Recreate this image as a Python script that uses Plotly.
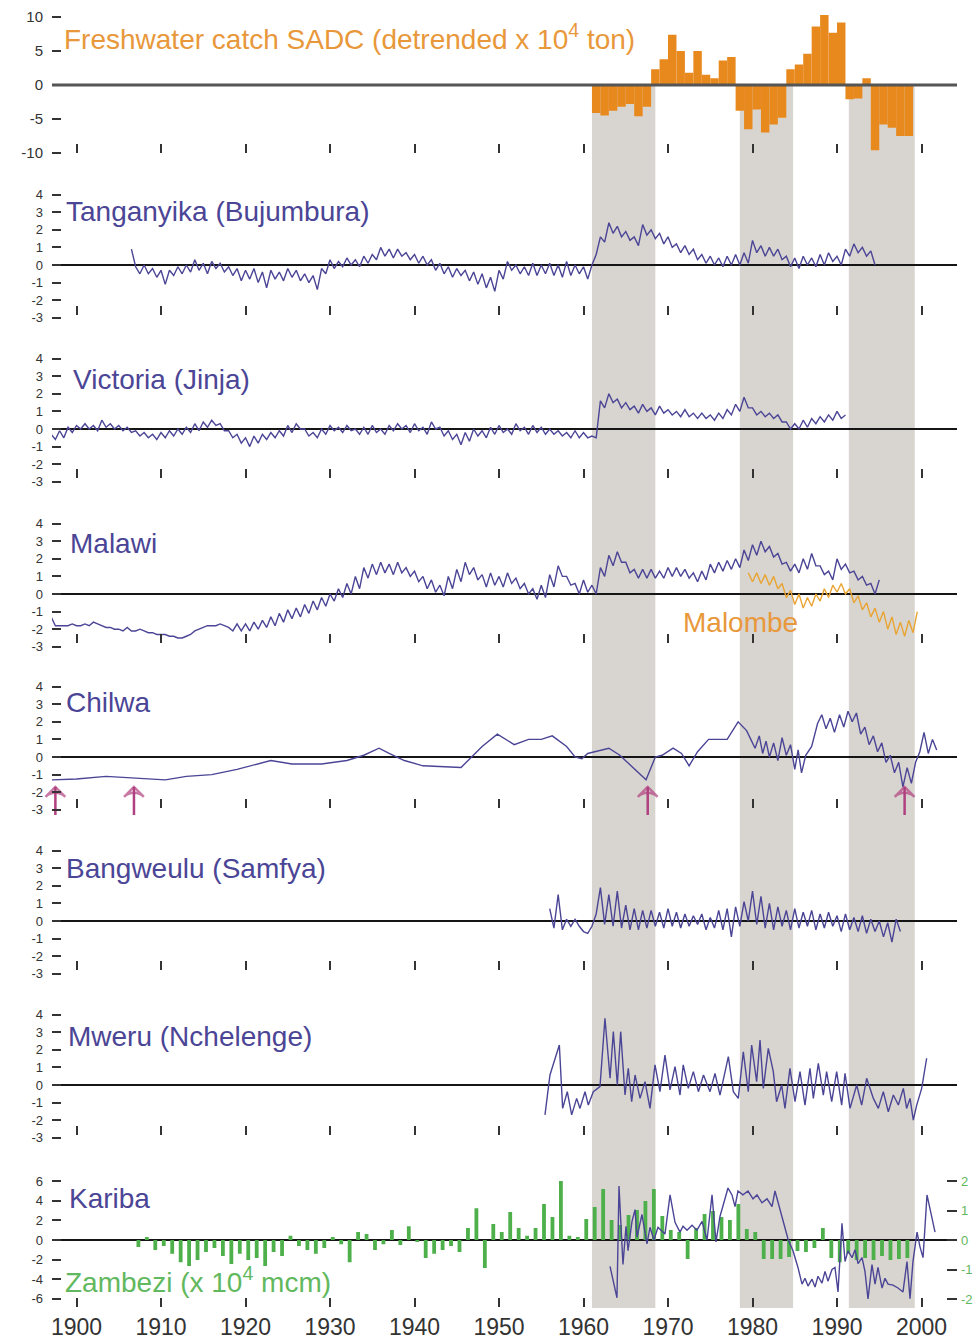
import plotly.graph_objects as go

# ---------------- data ----------------
decades = [1900, 1910, 1920, 1930, 1940, 1950, 1960, 1970, 1980, 1990, 2000]
decade_labels = ["1900", "1910", "1920", "1930", "1940", "1950", "1960", "1970", "1980", "1990", "2000"]

band_start = [1961.0, 1978.5, 1991.4]
band_end = [1968.5, 1984.8, 1999.2]

catch_years = list(range(1961, 1999))
catch_vals = [-4.1, -4.5, -3.8, -3.2, -2.8, -4.6, -3.2,
              2.3, 3.8, 7.4, 5.0, 1.8, 5.0, 1.5, 1.0, 3.6, 4.1,
              -3.8, -6.5, -3.6, -7.0, -5.8, -4.8,
              2.3, 3.0, 4.6, 8.6, 10.3, 7.7, 9.2,
              -2.1, -2.0, 1.0, -9.6, -5.8, -6.3, -7.5, -7.5]

tang_start = 1906.5
tang_vals = [0.9,
    -0.1, -0.5, 0.0, -0.5, -0.2, -0.7, -0.3, -1.1, -0.3, -0.6, -0.1, -0.5, 0.0, -0.4, 0.3, -0.3, 0.1, -0.5, 0.2, -0.2,
    0.1, -0.4, -0.1, -0.6, -0.2, -0.9, -0.3, -0.8, -0.2, -1.0, -0.4, -1.3, -0.3, -0.8, -0.4, -0.9, -0.2, -0.7, -0.3, -0.9,
    -0.5, -1.0, -0.6, -1.4, -0.2, -0.5, 0.3, -0.2, 0.2, -0.1, 0.4, 0.0, 0.3, -0.1, 0.5, 0.1, 0.6, 0.3, 1.0, 0.5,
    0.9, 0.4, 0.9, 0.5, 0.7, 0.3, 0.6, 0.1, 0.5, 0.0, 0.3, -0.3, 0.1, -0.5, -0.1, -0.7, -0.2, -0.6, -0.3, -0.9,
    -0.4, -1.1, -0.5, -1.3, -0.7, -1.5, -0.3, -0.8, 0.2, -0.3, 0.0, -0.5, -0.1, -0.6, 0.1, -0.6, 0.0, -0.5, 0.1, -0.6,
    0.0, -0.7, 0.2, -0.6, 0.0, -0.5, -0.1, -0.8, 0.0, 0.6, 1.6, 1.3, 2.4, 1.8, 2.2, 1.6, 1.9, 1.4, 1.6, 1.1,
    2.3, 1.7, 2.0, 1.5, 1.8, 1.2, 1.6, 1.0, 1.2, 0.7, 1.1, 0.6, 0.9, 0.3, 0.6, 0.1, 0.5, 0.0, 0.4, -0.1,
    0.5, 0.0, 0.6, 0.0, 0.7, 0.1, 1.4, 0.7, 1.1, 0.5, 1.0, 0.5, 0.9, 0.3, 0.5, -0.1, 0.4, -0.2, 0.5, 0.0,
    0.4, -0.1, 0.6, 0.0, 0.7, 0.2, 0.5, 0.0, 0.9, 0.5, 1.2, 0.7, 1.0, 0.5, 0.8, 0.0]

vic_start = 1897.0
vic_vals = [
    -0.3, -0.6, -0.1, -0.5, 0.1, -0.2, 0.2, 0.0, 0.3, 0.0, 0.2, -0.1, 0.5, 0.1, 0.3, 0.0, 0.2, -0.1, 0.1, -0.2,
    -0.1, -0.4, -0.2, -0.5, -0.3, -0.6, -0.2, -0.5, -0.1, -0.4, 0.0, -0.3, 0.1, -0.2, 0.3, -0.1, 0.4, 0.1, 0.5, 0.2,
    0.3, -0.1, -0.1, -0.5, -0.3, -0.8, -0.5, -1.0, -0.4, -0.8, -0.3, -0.6, -0.2, -0.5, -0.1, -0.4, 0.2, -0.2, 0.3, 0.0,
    0.0, -0.4, -0.2, -0.5, 0.0, -0.3, 0.2, -0.1, 0.1, -0.2, 0.2, -0.1, 0.0, -0.3, 0.1, -0.3, 0.2, -0.2, 0.0, -0.3,
    0.2, -0.1, 0.3, 0.0, 0.2, -0.2, 0.3, -0.1, 0.1, -0.3, 0.4, 0.0, 0.1, -0.4, -0.1, -0.6, -0.3, -0.9, -0.2, -0.7,
    0.0, -0.4, -0.1, -0.5, 0.1, -0.3, 0.2, -0.2, 0.0, -0.3, 0.3, -0.1, 0.1, -0.3, 0.2, -0.2, 0.1, -0.3, 0.0, -0.3,
    -0.1, -0.4, -0.2, -0.5, -0.1, -0.5, -0.2, -0.5, -0.4, -0.5, 1.6, 1.2, 2.0, 1.5, 1.7, 1.2, 1.5, 1.1, 1.3, 0.9,
    1.4, 1.0, 1.2, 0.8, 1.3, 0.9, 1.1, 0.8, 1.0, 0.7, 1.1, 0.7, 0.9, 0.6, 0.9, 0.6, 0.8, 0.5, 0.9, 0.6,
    1.1, 0.8, 1.4, 1.0, 1.8, 1.2, 1.2, 0.8, 1.0, 0.7, 0.9, 0.6, 0.8, 0.4, 0.4, 0.0, 0.3, 0.0, 0.5, 0.1,
    0.6, 0.3, 0.7, 0.4, 0.8, 0.5, 1.0, 0.6, 0.8]

mal_start = 1897.0
mal_vals = [
    -1.3, -1.8, -1.8, -1.8, -1.8, -1.7, -1.8, -1.8, -1.7, -1.8, -1.6, -1.7, -1.8, -1.9, -1.9, -2.0, -2.0, -2.1, -1.9, -2.1,
    -2.1, -2.0, -2.1, -2.2, -2.2, -2.3, -2.3, -2.3, -2.4, -2.4, -2.5, -2.5, -2.4, -2.3, -2.1, -2.0, -1.9, -1.8, -1.8, -1.8,
    -1.7, -1.8, -1.9, -2.1, -1.7, -2.1, -1.7, -2.1, -1.6, -2.0, -1.5, -1.9, -1.3, -1.8, -1.1, -1.6, -0.9, -1.4, -0.8, -1.3,
    -0.6, -1.1, -0.4, -0.9, -0.2, -0.7, 0.0, -0.4, 0.3, -0.2, 0.6, 0.0, 1.0, 0.3, 1.5, 0.9, 1.7, 1.1, 1.8, 1.2,
    1.7, 1.1, 1.8, 1.2, 1.5, 1.0, 1.3, 0.7, 1.0, 0.3, 0.8, 0.1, 0.5, -0.1, 1.0, 0.3, 1.4, 0.7, 1.8, 1.1,
    1.5, 0.8, 1.1, 0.4, 1.2, 0.5, 1.0, 0.4, 1.2, 0.6, 0.9, 0.3, 0.6, 0.0, 0.3, -0.3, 0.5, -0.2, 1.1, 0.4,
    1.6, 1.0, 1.0, 0.5, 0.6, 0.0, 0.8, 0.1, 0.5, 0.0, 1.5, 1.0, 2.2, 1.6, 2.4, 1.8, 1.8, 1.2, 1.4, 0.9,
    1.4, 0.9, 1.4, 0.9, 1.3, 0.9, 1.5, 1.0, 1.5, 1.0, 1.4, 0.9, 1.2, 0.7, 1.3, 0.8, 1.7, 1.2, 1.8, 1.3,
    1.9, 1.4, 2.0, 1.5, 2.5, 1.9, 2.8, 2.2, 3.0, 2.4, 2.7, 2.1, 2.3, 1.7, 1.8, 1.3, 1.7, 1.2, 2.0, 1.4,
    2.3, 1.6, 1.6, 1.1, 1.3, 0.8, 2.0, 1.4, 1.7, 1.2, 1.3, 0.8, 1.0, 0.5, 0.6, 0.0, 0.8]

malombe_start = 1979.5
malombe_vals = [1.2, 0.7, 1.2, 0.6, 1.1, 0.5, 1.0, 0.3, 0.6, -0.2, 0.2, -0.6, 0.0, -0.8, -0.2, -0.7,
                0.0, -0.4, 0.3, -0.2, 0.5, 0.1, 0.6, 0.0, 0.3, -0.5, -0.1, -0.9, -0.5, -1.3, -0.8, -1.6,
                -1.0, -2.0, -1.3, -2.3, -1.6, -2.4, -1.5, -2.2, -1.0]

chil_years = [1897.0, 1900.0, 1903.5, 1906.5, 1910.5, 1913.0, 1916.0, 1919.0, 1923.0, 1925.5, 1929.0, 1932.0,
              1934.0, 1935.8, 1937.0, 1938.8, 1941.0, 1945.5, 1948.0, 1949.8, 1951.8, 1953.5, 1955.0, 1956.3,
              1958.0, 1959.0, 1959.8, 1960.5, 1962.0, 1963.0, 1964.3, 1967.4, 1968.5, 1969.3, 1970.6, 1971.6,
              1972.5, 1973.5, 1974.8, 1976.0, 1977.0, 1978.3, 1979.3, 1979.8, 1980.3, 1980.8, 1981.2, 1981.6,
              1982.0, 1982.5, 1983.0, 1983.5, 1984.0, 1984.5, 1985.0, 1985.4, 1985.8, 1986.3, 1987.0, 1987.7,
              1988.2, 1988.7, 1989.2, 1989.7, 1990.3, 1990.8, 1991.3, 1991.8, 1992.3, 1992.8, 1993.3, 1993.8,
              1994.3, 1994.8, 1995.3, 1995.8, 1996.3, 1996.8, 1997.3, 1997.8, 1998.3, 1998.8, 1999.3, 1999.8,
              2000.3, 2000.8, 2001.3, 2001.8]
chil_vals = [-1.3, -1.25, -1.1, -1.2, -1.3, -1.1, -1.0, -0.7, -0.2, -0.4, -0.4, -0.2,
             0.1, 0.5, 0.2, -0.2, -0.5, -0.6, 0.6, 1.3, 0.7, 1.0, 1.0, 1.2,
             0.6, 0.0, -0.1, 0.2, 0.4, 0.5, 0.1, -1.3, 0.0, 0.1, 0.5, 0.2,
             -0.5, 0.3, 1.0, 1.0, 1.0, 2.0, 1.5, 1.0, 0.5, 1.2, 0.2, 0.9,
             0.0, 0.8, -0.2, 1.1, 0.1, 0.7, -0.7, 0.4, -0.9, 0.1, 0.6, 1.9,
             2.4, 1.6, 2.2, 1.4, 2.4, 1.7, 2.6, 2.0, 2.5, 1.3, 1.7, 0.7,
             1.2, 0.3, 0.8, -0.3, 0.1, -0.9, -0.3, -1.7, -0.6, -1.5, -0.3, 0.3,
             1.4, 0.2, 1.0, 0.4]
chilwa_dry_years = [1897.5, 1906.8, 1967.6, 1998.0]
chilwa_arrow_tip = -1.7
chilwa_arrow_tail = -3.3

bang_start = 1956.0
bang_vals = [0.7, -0.4, 1.5, -0.5, 0.1, -0.3, 0.1, -0.3, -0.6, -0.7, -0.3, 0.4, 1.9, -0.2, 1.5, -0.3,
             1.7, -0.4, 0.9, -0.5, 0.7, -0.5, 0.6, -0.4, 0.6, -0.3, 0.5, -0.4, 0.7, -0.3, 0.5, -0.4,
             0.4, -0.3, 0.3, -0.2, 0.4, -0.5, 0.2, -0.4, 0.6, -0.5, 0.7, -0.9, 0.8, -0.3, 1.1, 0.0,
             1.7, -0.2, 1.4, -0.4, 1.0, -0.5, 0.8, -0.3, 0.6, -0.5, 0.7, -0.4, 0.5, -0.3, 0.6, -0.5,
             0.4, -0.4, 0.5, -0.3, 0.3, -0.6, 0.4, -0.5, 0.2, -0.6, 0.3, -0.7, 0.1, -0.6, 0.0, -0.9,
             -0.1, -1.2, 0.1, -0.6]

mw_years = [1955.44, 1956.03, 1957.14, 1957.53, 1958.08, 1958.6, 1959.19, 1959.58, 1960.18, 1960.57,
            1961.16, 1961.95, 1962.54, 1963.14, 1963.53, 1964.0, 1964.4, 1964.91, 1965.3, 1965.7,
            1966.1, 1966.69, 1967.28, 1967.87, 1968.46, 1969.05, 1969.64, 1970.24, 1970.83, 1971.42,
            1971.8, 1972.4, 1973.0, 1973.6, 1974.2, 1974.97, 1975.56, 1976.15, 1977.14, 1977.73,
            1978.32, 1978.91, 1979.5, 1979.9, 1980.49, 1980.89, 1981.28, 1981.87, 1982.46, 1982.85,
            1983.45, 1983.84, 1984.43, 1985.03, 1985.62, 1986.21, 1986.8, 1987.2, 1987.79, 1988.38,
            1988.77, 1989.37, 1989.96, 1990.55, 1990.95, 1991.54, 1992.33, 1992.92, 1993.51, 1994.3,
            1994.89, 1995.48, 1996.07, 1996.67, 1997.26, 1997.85, 1998.24, 1998.64, 1999.03, 1999.43,
            2000.02, 2000.61]
mw_vals = [-1.70, 0.57, 2.27, -1.33, -0.38, -1.70, -0.76, -1.33, -0.38, -1.14,
           -0.38, -0.09, 3.79, 0.38, 3.03, 0.0, 3.03, -0.57, 0.95, -0.95,
           0.57, -0.76, 0.19, -1.33, 1.14, -0.38, 1.70, -0.28, 1.04, -0.57,
           1.14, -0.19, 0.76, -0.38, 0.57, -0.38, 0.66, -0.57, 1.61, -0.38,
           -0.76, 1.89, -0.38, 2.27, 0.19, 2.56, -0.19, 2.08, 0.76, -0.95,
           0.0, -1.33, 0.95, -0.95, 0.76, -1.14, 0.95, -0.76, 1.23, -0.57,
           0.76, -0.95, 0.76, -1.14, 0.66, -1.33, 0.0, -1.14, 0.38, -0.76,
           -1.33, -0.38, -1.52, -0.57, -1.14, -0.19, -1.33, -0.76, -1.99, -1.14,
           -0.19, 1.52]

kar_years = [1963.14, 1963.96, 1964.2, 1964.67, 1965.03, 1965.27, 1965.74, 1966.1, 1966.33, 1966.92,
             1967.51, 1967.87, 1968.34, 1968.81, 1969.64, 1970.24, 1970.83, 1971.42, 1971.78, 1972.25,
             1972.84, 1973.43, 1974.03, 1974.62, 1975.21, 1975.68, 1976.15, 1976.63, 1977.1, 1977.57,
             1977.93, 1978.28, 1978.87, 1979.47, 1980.06, 1980.53, 1981.12, 1981.72, 1982.31, 1982.66,
             1983.49, 1984.2, 1984.79, 1985.38, 1985.86, 1986.21, 1986.57, 1987.04, 1987.4, 1987.75,
             1988.22, 1988.58, 1988.93, 1989.41, 1989.76, 1990.12, 1990.59, 1990.95, 1991.3, 1991.78,
             1992.13, 1992.49, 1992.96, 1993.31, 1993.67, 1994.14, 1994.5, 1994.85, 1995.33, 1995.68,
             1996.04, 1996.63, 1997.22, 1997.81, 1998.28, 1998.64, 1998.99, 1999.47, 1999.82, 2000.18,
             2000.65, 2001.0, 2001.6]
kar_vals = [-2.7, -5.9, 5.5, -2.5, 1.4, -1.1, 1.9, 3.1, 0.3, 2.6,
            -0.4, 1.3, 0.0, 1.3, 0.6, 4.6, 1.8, 0.8, 1.4, 1.0,
            1.5, 1.0, 1.9, 0.0, 4.6, -0.2, 2.4, 3.8, 5.3, 4.6,
            3.4, 5.0, 4.6, 5.0, 4.2, 4.6, 3.8, 4.2, 3.4, 5.0,
            2.4, 0.1, -1.1, -2.8, -4.5, -3.9, -4.7, -4.0, -4.8, -3.7,
            -4.4, -3.2, -4.2, -3.0, -2.8, -5.3, 1.7, -2.2, -1.1, -1.8,
            -1.0, -2.4, -1.8, -3.2, -6.0, -2.5, -4.5, -2.8, -4.9, -3.9,
            -4.5, -4.6, -4.9, -5.3, -2.2, -6.0, -2.2, 0.8, -0.7, -1.8,
            4.6, 3.2, 0.8]

zam_years = list(range(1907, 1999))
zam_vals = [-0.24, 0.10, -0.34, -0.20, -0.47, -0.75, -0.88, -0.68, -0.41, -0.27,
            -0.54, -0.81, -0.47, -0.68, -0.61, -0.88, -0.41, -0.54, 0.14, -0.20,
            -0.34, -0.47, -0.27, 0.10, -0.14, -0.75, 0.27, 0.20, -0.34, -0.14,
            0.34, -0.17, 0.47, -0.07, -0.61, -0.47, -0.34, -0.20, -0.41, 0.41,
            1.08, -0.95, 0.54, 0.27, 0.95, 0.41, 0.14, 0.41, 1.22, 0.78,
            2.00, 0.14, 0.10, 0.71, 1.12, 1.73, 0.68, 0.51, 0.85, 1.02,
            1.32, 1.73, 0.81, 0.34, 0.27, -0.64, 0.41, 0.88, 0.98, 0.78,
            0.68, 1.22, 0.37, 0.27, -0.64, -0.64, -0.64, -0.58, -0.37, -0.41,
            -0.27, 0.41, -0.61, -0.75, -0.47, -0.68, -0.61, -0.68, -0.54, -0.68,
            -0.64, -0.61]

# ---------------- styling / geometry ----------------
W, H = 974, 1340
ML, MR = 52, 17
PW = W - ML - MR
X0, X1 = 1897.1, 2004.2
FONT = "Liberation Sans, Arial, Helvetica, sans-serif"
NAVY = "#4B4596"
ORANGE = "#E8891E"
ORANGE_TXT = "#E8983A"
MALOMBE = "#E9A533"
GREEN = "#4DB04A"
GREEN_TXT = "#62B85E"
BAND = "#D8D4D0"
ARROW = "#B0407F"
TICK = "#333333"


def fy(py):
    return 1 - py / H


def fx(px):
    return (px - ML) / PW


def semiannual(start, vals):
    return [start + 0.5 * i for i in range(len(vals))]


panels = [
    dict(zero=85, ppu=6.8, lo=-10.6, hi=11.5, tv=[-10, -5, 0, 5, 10], row=143, fs=15),
    dict(zero=265, ppu=17.6, lo=-3.2, hi=4.4, tv=list(range(-3, 5)), row=305, fs=13),
    dict(zero=429, ppu=17.6, lo=-3.2, hi=4.4, tv=list(range(-3, 5)), row=468, fs=13),
    dict(zero=594, ppu=17.6, lo=-3.2, hi=4.4, tv=list(range(-3, 5)), row=633, fs=13),
    dict(zero=757, ppu=17.6, lo=-3.4, hi=4.4, tv=list(range(-3, 5)), row=798, fs=13),
    dict(zero=921, ppu=17.6, lo=-3.2, hi=4.4, tv=list(range(-3, 5)), row=960, fs=13),
    dict(zero=1085, ppu=17.6, lo=-3.2, hi=4.4, tv=list(range(-3, 5)), row=1125, fs=13),
    dict(zero=1240, ppu=9.8, lo=-6.6, hi=6.6, tv=[-6, -4, -2, 0, 2, 4, 6], row=1297, fs=13),
]
ZAM_PPU = 29.5

fig = go.Figure()

fig.add_trace(go.Bar(x=catch_years, y=catch_vals, width=1, offset=0,
                     marker=dict(color=ORANGE, line=dict(width=0)), xaxis="x", yaxis="y"))
line_style = dict(color=NAVY, width=1.4)
fig.add_trace(go.Scatter(x=semiannual(tang_start, tang_vals), y=tang_vals, mode="lines",
                         line=line_style, xaxis="x2", yaxis="y2"))
fig.add_trace(go.Scatter(x=semiannual(vic_start, vic_vals), y=vic_vals, mode="lines",
                         line=line_style, xaxis="x3", yaxis="y3"))
fig.add_trace(go.Scatter(x=semiannual(mal_start, mal_vals), y=mal_vals, mode="lines",
                         line=line_style, xaxis="x4", yaxis="y4"))
fig.add_trace(go.Scatter(x=semiannual(malombe_start, malombe_vals), y=malombe_vals, mode="lines",
                         line=dict(color=MALOMBE, width=1.4), xaxis="x4", yaxis="y4"))
fig.add_trace(go.Scatter(x=chil_years, y=chil_vals, mode="lines",
                         line=line_style, xaxis="x5", yaxis="y5"))
# Chilwa dry-out arrows (stem + open arrowhead)
ax_, ay_, sym, msz = [], [], [], []
for yr in chilwa_dry_years:
    ax_ += [yr, yr, None]
    ay_ += [chilwa_arrow_tail, chilwa_arrow_tip, None]
    sym += ["circle", "arrow-wide-open", "circle"]
    msz += [0, 14, 0]
fig.add_trace(go.Scatter(x=ax_, y=ay_, mode="lines+markers",
                         line=dict(color=ARROW, width=2.5),
                         marker=dict(symbol=sym, size=msz, color=ARROW, angleref="previous",
                                     line=dict(width=2.5, color=ARROW)),
                         cliponaxis=False, xaxis="x5", yaxis="y5"))
fig.add_trace(go.Scatter(x=semiannual(bang_start, bang_vals), y=bang_vals, mode="lines",
                         line=line_style, xaxis="x6", yaxis="y6"))
fig.add_trace(go.Scatter(x=mw_years, y=mw_vals, mode="lines",
                         line=line_style, xaxis="x7", yaxis="y7"))
fig.add_trace(go.Bar(x=zam_years, y=zam_vals, width=0.45, offset=0.1,
                     marker=dict(color=GREEN, line=dict(width=0)), xaxis="x8", yaxis="y8"))
fig.add_trace(go.Scatter(x=kar_years, y=kar_vals, mode="lines",
                         line=line_style, xaxis="x8", yaxis="y9"))

layout = dict(
    width=W, height=H,
    margin=dict(l=ML, r=MR, t=0, b=0, pad=0),
    template="none",
    paper_bgcolor="white",
    plot_bgcolor="rgba(0,0,0,0)",
    showlegend=False,
    font=dict(family=FONT, color=TICK),
)

for k, p in enumerate(panels, start=1):
    sfx = "" if k == 1 else str(k)
    bottom = p["zero"] - p["lo"] * p["ppu"]
    top = p["zero"] - p["hi"] * p["ppu"]
    dom = [fy(bottom), fy(top)]
    layout["xaxis" + sfx] = dict(
        range=[X0, X1], anchor="free", position=fy(p["row"]),
        ticks="outside", ticklen=9, tickwidth=2, tickcolor=TICK,
        tickvals=decades, ticktext=decade_labels,
        showticklabels=(k == 8), tickfont=dict(size=23, color=TICK, family=FONT),
        showgrid=False, zeroline=False, showline=False, fixedrange=True, automargin=False,
    )
    ydef = dict(
        domain=dom, range=[p["lo"], p["hi"]], anchor="x" + sfx,
        ticks="inside", ticklen=9, tickwidth=2, tickcolor=TICK,
        tickvals=p["tv"], ticktext=[str(v) for v in p["tv"]],
        tickfont=dict(size=p["fs"], color=TICK, family=FONT), ticklabelstandoff=8,
        showgrid=False, showline=False, fixedrange=True, automargin=False,
        zeroline=(k not in (1, 8)), zerolinecolor="#151515", zerolinewidth=2,
    )
    if k == 8:
        r = p["ppu"] / ZAM_PPU
        layout["yaxis8"] = dict(
            domain=dom, range=[p["lo"] * r, p["hi"] * r], anchor="x8", side="right",
            ticks="inside", ticklen=10, tickwidth=2, tickcolor=TICK,
            tickvals=[-2, -1, 0, 1, 2], ticktext=["-2", "-1", "0", "1", "2"],
            tickfont=dict(size=13, color=GREEN_TXT, family=FONT), ticklabelstandoff=3,
            showgrid=False, showline=False, zeroline=False, fixedrange=True, automargin=False,
        )
        ydef.update(overlaying="y8", side="left", anchor="x8", zeroline=True)
        layout["yaxis9"] = ydef
    else:
        layout["yaxis" + sfx] = ydef

shapes = []
for b0, b1 in zip(band_start, band_end):
    shapes.append(dict(type="rect", xref="x", yref="paper", x0=b0, x1=b1,
                       y0=fy(1308), y1=fy(85), fillcolor=BAND, line=dict(width=0), layer="below"))
shapes.append(dict(type="line", xref="x domain", yref="y", x0=0, x1=1, y0=0, y1=0,
                   line=dict(color="#555555", width=3), layer="above"))
layout["shapes"] = shapes


def label(text, px, py, color):
    return dict(text=text, xref="paper", yref="paper", x=fx(px), y=fy(py),
                xanchor="left", yanchor="middle", showarrow=False,
                font=dict(family=FONT, size=28, color=color))


layout["annotations"] = [
    label("Freshwater catch SADC (detrended x 10<sup>4</sup> ton)", 62, 37, ORANGE_TXT),
    label("Tanganyika (Bujumbura)", 64, 212, NAVY),
    label("Victoria (Jinja)", 71, 380, NAVY),
    label("Malawi", 68, 543, NAVY),
    label("Malombe", 681, 622, ORANGE_TXT),
    label("Chilwa", 64, 703, NAVY),
    label("Bangweulu (Samfya)", 64, 868, NAVY),
    label("Mweru (Nchelenge)", 66, 1036, NAVY),
    label("Kariba", 67, 1198, NAVY),
    label("Zambezi (x 10<sup>4</sup> mcm)", 63, 1280, GREEN_TXT),
]

fig.update_layout(**layout)
fig.write_html(
    "out.html",
    config={"displayModeBar": False},
    post_script="document.body.style.margin='0';document.documentElement.style.overflow='hidden';",
)
